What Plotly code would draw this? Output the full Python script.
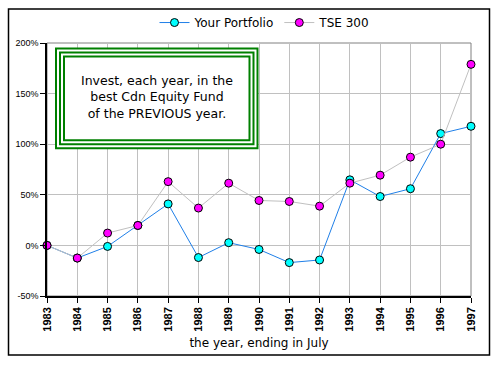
import plotly.graph_objects as go

years = list(range(1983, 1998))
portfolio = [0, -12.5, -1, 19.7, 41, -12, 2.7, -4, -17, -14.4, 64.8, 48.3, 56, 110.5, 117.7]
tse300 = [0, -12.5, 12.2, 19.7, 63, 36.9, 61.5, 44.4, 43.4, 38.8, 61.5, 69.4, 87.2, 100, 178.9]
y_ticks = [-50, 0, 50, 100, 150, 200]
y_tick_text = ["-50%", "0%", "50%", "100%", "150%", "200%"]
note_lines = ["Invest, each year, in the", "best Cdn Equity Fund", "of the PREVIOUS year."]

W, H = 500, 365
L, R, T, B = 47, 471, 42.5, 296
pw, ph = R - L, B - T
TXT = "DejaVu Sans, Liberation Sans, Arial, sans-serif"

def px(x):
    return (x - L) / pw

def py(y):
    return (B - y) / ph

fig = go.Figure()
fig.add_trace(go.Scatter(
    x=years, y=portfolio, name="Your Portfolio", mode="lines+markers",
    line=dict(color="#1f7fe8", width=1),
    marker=dict(symbol="circle", size=8, color="#00ffff", line=dict(color="black", width=1)),
    cliponaxis=False,
))
fig.add_trace(go.Scatter(
    x=years, y=tse300, name="TSE 300", mode="lines+markers",
    line=dict(color="#c0c0c0", width=1),
    marker=dict(symbol="circle", size=8, color="#ff00ff", line=dict(color="black", width=1)),
    cliponaxis=False,
))

shapes = []
shapes.append(dict(type="rect", xref="paper", yref="paper",
                   x0=px(8.5), x1=px(489.5), y0=py(355), y1=py(8.5),
                   line=dict(color="black", width=1.5), layer="below"))
shapes.append(dict(type="rect", xref="paper", yref="paper", x0=0, x1=1, y0=0, y1=1,
                   line=dict(color="#808080", width=1), layer="below"))
bx0, bx1, by0, by1 = 56, 257.5, 48, 148
shapes.append(dict(type="rect", xref="paper", yref="paper",
                   x0=px(bx0), x1=px(bx1), y0=py(by1), y1=py(by0),
                   line=dict(color="#008000", width=2), fillcolor="white", layer="above"))
for d in (4, 8):
    shapes.append(dict(type="rect", xref="paper", yref="paper",
                       x0=px(bx0 + d), x1=px(bx1 - d), y0=py(by1 - d), y1=py(by0 + d),
                       line=dict(color="#008000", width=2), layer="above"))

fig.update_layout(
    width=W, height=H, autosize=False,
    margin=dict(l=L, r=W - R, t=T, b=H - B, autoexpand=False),
    paper_bgcolor="white", plot_bgcolor="white",
    font=dict(family="Liberation Sans, Arial, sans-serif", size=11, color="black"),
    shapes=shapes,
    showlegend=True,
    legend=dict(orientation="h", x=px(265), xanchor="center", y=py(22), yanchor="middle",
                font=dict(size=12, family=TXT), bgcolor="rgba(0,0,0,0)"),
    annotations=[dict(xref="paper", yref="paper", x=px((bx0 + bx1) / 2), y=py(97),
                      text="<br>".join(note_lines), showarrow=False,
                      font=dict(size=12.5, color="black", family=TXT), align="center",
                      xanchor="center", yanchor="middle")],
)
fig.update_xaxes(
    range=[1983, 1997], tickmode="array", tickvals=years, ticktext=[str(y) for y in years],
    tickangle=-90, showgrid=True, gridcolor="#c0c0c0", gridwidth=1, automargin=False,
    showline=True, linecolor="black", linewidth=1.5, ticks="outside", ticklen=5,
    tickcolor="black", tickfont=dict(size=11, weight="bold"),
    title=dict(text="the year, ending in July", font=dict(size=12, family=TXT), standoff=8),
    zeroline=False,
)
fig.update_yaxes(
    range=[-50, 200], tickmode="array", tickvals=y_ticks, ticktext=y_tick_text,
    showgrid=True, gridcolor="#c0c0c0", gridwidth=1, automargin=False,
    showline=True, linecolor="black", linewidth=1.5, ticks="outside", ticklen=5,
    tickcolor="black", tickfont=dict(size=9), zeroline=False,
)
fig.write_html("out.html", config={"displayModeBar": False},
               post_script="document.body.style.margin='0px';document.body.style.overflow='hidden';")
